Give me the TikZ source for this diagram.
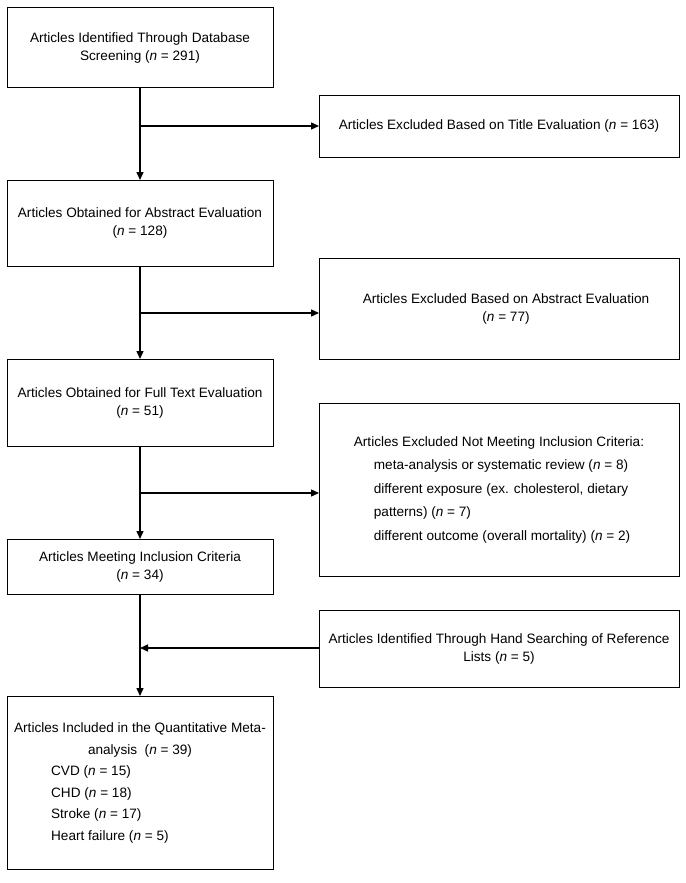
\documentclass[tikz,border=0pt]{standalone}
\usepackage{fontspec}
\setmainfont{Liberation Sans}
\usetikzlibrary{arrows.meta}
\begin{document}
\begin{tikzpicture}[x=1pt,y=-1pt,
  box/.style={draw, line width=1pt, inner sep=0pt, outer sep=0pt, align=center,
    font=\fontsize{13.6}{18}\selectfont},
  leftbox/.style={box, minimum width=266pt},
  rightbox/.style={box, minimum width=360pt},
  conn/.style={line width=1.4pt, -{Triangle[length=8pt,width=7pt]}}]
\useasboundingbox (0,0) rectangle (685,883);
\fill[white] (0,0) rectangle (685,883);

% left column
\node[leftbox, minimum height=79pt] (b1) at (140,47.5)
  {Articles Identified Through Database\\Screening (\textit{n} = 291)};
\node[leftbox, minimum height=86pt] (b2) at (140,223)
  {Articles Obtained for Abstract Evaluation\\(\textit{n} = 128)};
\node[leftbox, minimum height=87pt] (b3) at (140,402.5)
  {Articles Obtained for Full Text Evaluation\\(\textit{n} = 51)};
\node[leftbox, minimum height=55pt] (b4) at (140,566.5)
  {Articles Meeting Inclusion Criteria\\(\textit{n} = 34)};
\node[leftbox, minimum height=173pt] (b5) at (140,782.5)
  {\begin{tabular}{@{}l@{}}
   Articles Included in the Quantitative Meta-\\[4pt]
   \multicolumn{1}{@{}c@{}}{analysis\ \ (\textit{n} = 39)}\\[3.5pt]
   \hspace{37pt}CVD (\textit{n} = 15)\\[3.5pt]
   \hspace{37pt}CHD (\textit{n} = 18)\\[3.5pt]
   \hspace{37pt}Stroke (\textit{n} = 17)\\[3.5pt]
   \hspace{37pt}Heart failure (\textit{n} = 5)
   \end{tabular}};

% right column
\node[rightbox, minimum height=62pt] (r1) at (499,126)
  {Articles Excluded Based on Title Evaluation (\textit{n} = 163)};
\node[rightbox, minimum height=101pt] (r2) at (499,308.5)
  {\hspace{14pt}Articles Excluded Based on Abstract Evaluation\\\hspace{14pt}(\textit{n} = 77)};
\node[rightbox, minimum height=173pt] (r3) at (499,489.5)
  {\begin{tabular}{@{}l@{}}
   Articles Excluded Not Meeting Inclusion Criteria:\\[5.5pt]
   \hspace{20pt}meta-analysis or systematic review (\textit{n} = 8)\\[5.5pt]
   \hspace{20pt}different exposure (ex. cholesterol, dietary\\[5.5pt]
   \hspace{20pt}patterns) (\textit{n} = 7)\\[5.5pt]
   \hspace{20pt}different outcome (overall mortality) (\textit{n} = 2)
   \end{tabular}};
\node[rightbox, minimum height=77pt] (r4) at (499,648.5)
  {Articles Identified Through Hand Searching of Reference\\Lists (\textit{n} = 5)};

% junctions
\coordinate (j1) at (140,126);
\coordinate (j2) at (140,313);
\coordinate (j3) at (140,493);
\coordinate (j4) at (140,648);

% connectors
\draw[conn] (b1) -- (b2);
\draw[conn] (b2) -- (b3);
\draw[conn] (b3) -- (b4);
\draw[conn] (b4) -- (b5);
\draw[conn] (j1) -- (j1 -| r1.west);
\draw[conn] (j2) -- (j2 -| r2.west);
\draw[conn] (j3) -- (j3 -| r3.west);
\draw[conn] (j4 -| r4.west) -- (j4);
\end{tikzpicture}
\end{document}
